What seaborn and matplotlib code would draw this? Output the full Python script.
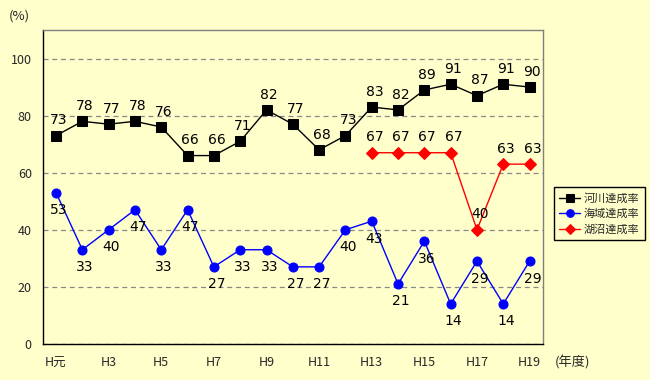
import numpy as np
import pandas as pd
import matplotlib
matplotlib.use("Agg")
import matplotlib.pyplot as plt
from matplotlib.ticker import FixedLocator
import seaborn as sns

years = ["H元", "H2", "H3", "H4", "H5", "H6", "H7", "H8", "H9", "H10",
         "H11", "H12", "H13", "H14", "H15", "H16", "H17", "H18", "H19"]
river = [73, 78, 77, 78, 76, 66, 66, 71, 82, 77, 68, 73, 83, 82, 89, 91, 87, 91, 90]
sea = [53, 33, 40, 47, 33, 47, 27, 33, 33, 27, 27, 40, 43, 21, 36, 14, 29, 14, 29]
lake = [None] * 12 + [67, 67, 67, 67, 40, 63, 63]
names = ["河川達成率", "海域達成率", "湖沼達成率"]

sns.set_style("white")
plt.rcParams["font.family"] = ["Noto Sans CJK JP", "DejaVu Sans"]

bg = "#FFFFCC"
fig = plt.figure(figsize=(6.5, 3.8), dpi=100, facecolor=bg)
ax = fig.add_axes([0.066, 0.095, 0.769, 0.826])
ax.set_facecolor(bg)

pos = np.arange(len(years))
df = pd.DataFrame({"x": pos, names[0]: river, names[1]: sea,
                   names[2]: pd.array(lake, dtype="Float64")})

styles = [("black", "s", 7, 11), ("blue", "o", 6.5, -12.5), ("red", "D", 6, 11)]
for name, (col, mk, ms, dy) in zip(names, styles):
    sub = df[["x", name]].dropna()
    sub[name] = sub[name].astype(float)
    sns.lineplot(data=sub, x="x", y=name, ax=ax, color=col, marker=mk,
                 markersize=ms, markeredgecolor=col, linewidth=1,
                 label=name, sort=False)
    for xv, yv in zip(sub["x"], sub[name]):
        ax.annotate(f"{int(yv)}", (xv, yv), xytext=(2, dy),
                    textcoords="offset points", ha="center", va="center",
                    fontsize=10, color="black", family="DejaVu Sans")

ax.set_xlim(-0.5, len(years) - 0.5)
ax.set_ylim(0, 110)
ax.set_yticks([0, 20, 40, 60, 80, 100])
ax.set_xticks(pos[::2])
ax.set_xticklabels(years[::2], fontsize=9)
ax.xaxis.set_minor_locator(FixedLocator(np.arange(0.5, len(years) - 0.5)))
ax.tick_params(axis="x", which="major", length=0, pad=9)
ax.tick_params(axis="x", which="minor", length=4, direction="in", color="black")
ax.tick_params(axis="y", length=0, labelsize=9, pad=8)
ax.set_xlabel("")
ax.set_ylabel("")
ax.grid(axis="y", linestyle=(0, (4, 3)), color="#888888", linewidth=0.9)
ax.set_axisbelow(True)

for s in ["left", "bottom"]:
    ax.spines[s].set_color("black")
for s in ["top", "right"]:
    ax.spines[s].set_color("#808080")
for s in ax.spines.values():
    s.set_linewidth(1)
    s.set_visible(True)

fig.text(0.014, 0.958, "(%)", fontsize=9.5, ha="left", va="center")
fig.text(0.853, 0.047, "(年度)", fontsize=9.5, ha="left", va="center")

leg = ax.legend(loc="upper left", bbox_to_anchor=(0.843, 0.522),
                bbox_transform=fig.transFigure, frameon=True, fancybox=False,
                edgecolor="black", facecolor=bg, fontsize=8,
                handlelength=1.9, handletextpad=0.3, borderpad=0.5,
                labelspacing=0.45, markerscale=0.85)
leg.get_frame().set_linewidth(1)
leg.get_frame().set_alpha(1)

fig.savefig("out.png", dpi=100, facecolor=bg)
